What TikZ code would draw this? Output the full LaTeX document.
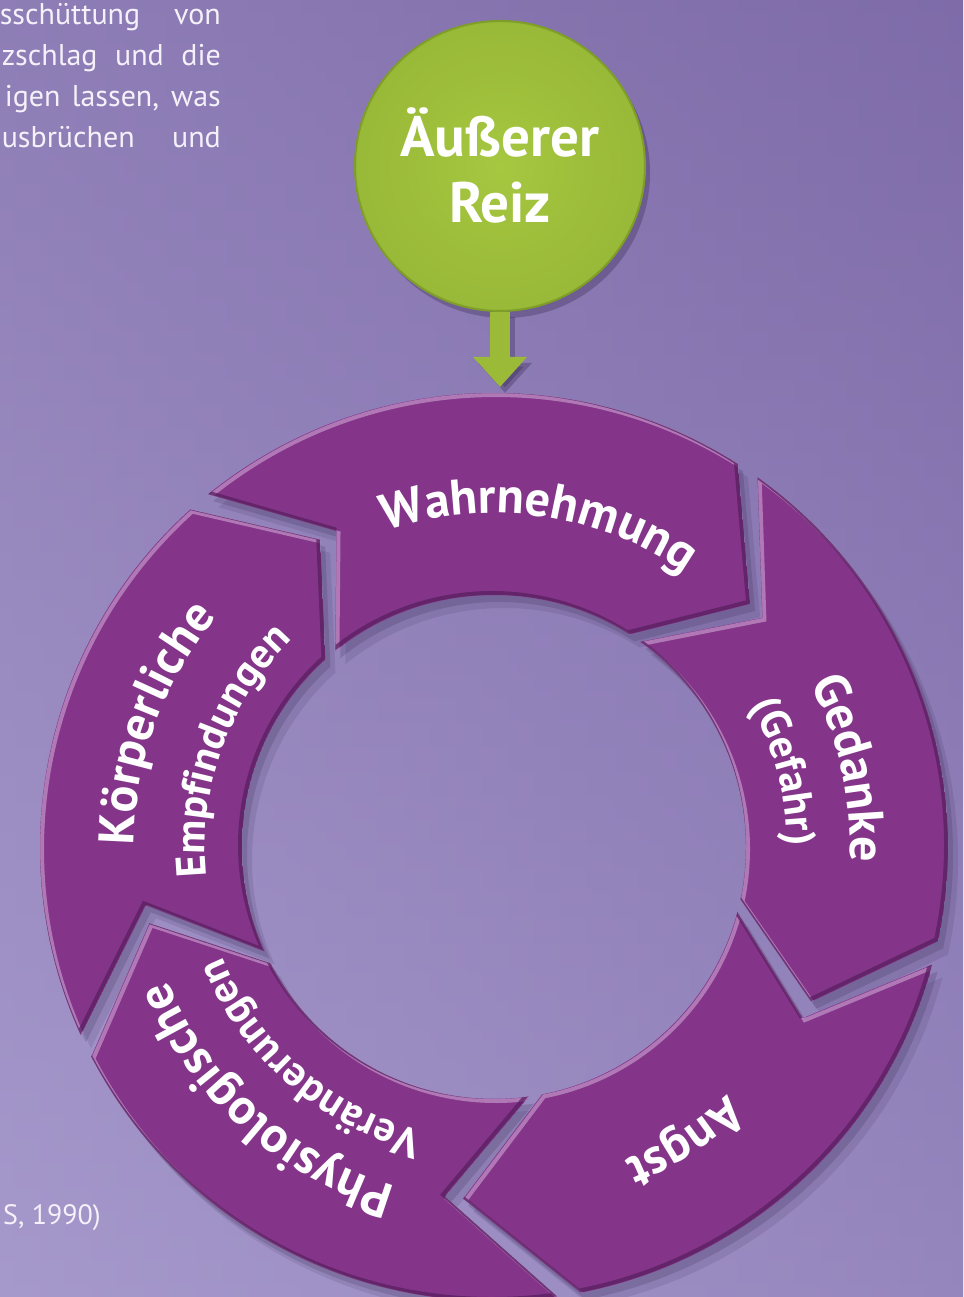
\documentclass[tikz,border=0pt]{standalone}
\usepackage{fontspec}
\setmainfont{PT Sans}
\usetikzlibrary{decorations.text,arrows.meta}
\definecolor{segc}{HTML}{84358A}
\definecolor{seghi}{HTML}{BC8AC2}
\definecolor{segdk}{HTML}{5A1F60}
\definecolor{shadc}{HTML}{2E2048}
\definecolor{grn}{HTML}{A2C43B}
\definecolor{grnin}{HTML}{A6C740}
\definecolor{grndk}{HTML}{7E9E28}
\definecolor{txtc}{HTML}{F4F1FA}
\definecolor{bgA}{HTML}{A295C8}
\definecolor{bgB}{HTML}{8270AD}
\definecolor{bgC}{HTML}{7B67A5}
\definecolor{bgD}{HTML}{A99CCE}
\newcommand\segpath[4]{(#1:454) arc[start angle=#1,end angle=#3,radius=454] -- ({#3-#4}:353) -- (#3:252) arc[start angle=#3,end angle=#1,radius=252] -- ({#1-#2}:353) -- cycle}
\newcommand\fa{\fontsize{50}{50}\selectfont\bfseries}
\newcommand\fb{\fontsize{42}{42}\selectfont\bfseries}
\newcommand\arclabel[5]{\path[decorate,decoration={text along path,text align=center,text color=white,text={|#4|#5}}] ({#1+#3}:#2) arc[start angle={#1+#3},end angle={#1-#3},radius=#2];}
\tikzset{
  para/.style={text=txtc,font=\fontsize{30}{30}\selectfont,inner sep=0pt},
  reizbox/.style={circle,minimum size=290,inner sep=0pt,inner color=grnin,outer color=grn!94!black,draw=grndk,line width=2,text=white,align=center,font=\fontsize{57}{66}\selectfont\bfseries},
  greenarrow/.style={line width=20,draw=grn!95!black,-{Triangle[width=52,length=30]}}
}
\begin{document}
\begin{tikzpicture}[x=1pt,y=1pt]
\useasboundingbox (0,0) rectangle (963,1297);
\clip (0,0) rectangle (963,1297);
% background
\shade[left color=bgA,right color=bgB] (0,0) rectangle (963,1297);
\shade[top color=bgC,bottom color=bgD,opacity=0.5] (0,0) rectangle (963,1297);
% paragraph fragments
\node[para,anchor=base east] (p1) at (221,1272) {\makebox[221pt][s]{sschüttung von}};
\node[para,anchor=base east] (p2) at (221,1231) {\makebox[219pt][s]{zschlag und die}};
\node[para,anchor=base east] (p3) at (221,1190) {\makebox[216pt][s]{igen lassen, was}};
\node[para,anchor=base east] (p4) at (221,1149) {\makebox[219pt][s]{usbrüchen und}};
\node[para,anchor=base west,font=\fontsize{28}{28}\selectfont] (src) at (3,72) {S, 1990)};
% ring
\begin{scope}[shift={(494,450)}]
  \foreach \t/\dt/\h/\dh in {129/12.5/57.5/14, 54.5/14/-12/14, -15/14/-79/16, -82/16/-152.5/15, 204.5/15/132/12.5}{
    \fill[shadc,opacity=.12,shift={(10,-13)}] \segpath{\t}{\dt}{\h}{\dh};
    \fill[shadc,opacity=.18,shift={(5,-7)}] \segpath{\t}{\dt}{\h}{\dh};
  }
  \foreach \t/\dt/\h/\dh in {129/12.5/57.5/14, 54.5/14/-12/14, -15/14/-79/16, -82/16/-152.5/15, 204.5/15/132/12.5}{
    \begin{scope}
      \clip \segpath{\t}{\dt}{\h}{\dh};
      \fill[segc] \segpath{\t}{\dt}{\h}{\dh};
      \draw[seghi,opacity=.8,line width=4,shift={(2,-2)}] \segpath{\t}{\dt}{\h}{\dh};
      \draw[segdk,opacity=.75,line width=4,shift={(-2,2)}] \segpath{\t}{\dt}{\h}{\dh};
    \end{scope}
  }
  \arclabel{82}{334}{45}{\fa}{Wahrnehmung}
  \arclabel{12.5}{356}{45}{\fa}{Gedanke}
  \arclabel{14.5}{293}{45}{\fb}{(Gefahr)}
  \arclabel{-57}{340}{40}{\fa}{Angst}
  \arclabel{228}{353}{45}{\fa}{Physiologische}
  \arclabel{229}{293}{45}{\fb}{Veränderungen}
  \arclabel{160}{360}{45}{\fa}{Körperliche}
  \arclabel{160}{289}{45}{\fb}{Empfindungen}
\end{scope}
% external stimulus
\coordinate (atip) at (500,910);
\fill[shadc,opacity=.3] (505,1124) circle (145);
\draw[greenarrow,draw=shadc,opacity=.3] (505,980) -- (505,904);
\node[reizbox] (reiz) at (500,1131) {Äußerer\\Reiz};
\draw[greenarrow] (reiz.south) -- (atip);
\end{tikzpicture}
\end{document}
